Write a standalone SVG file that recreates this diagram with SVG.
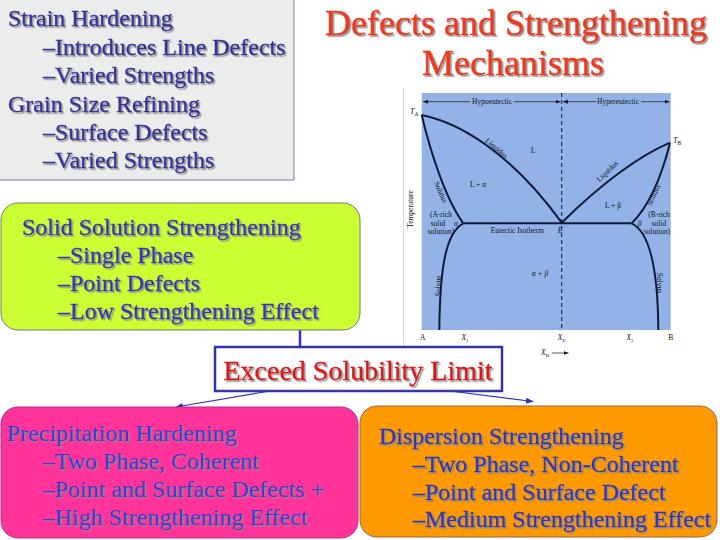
<svg xmlns="http://www.w3.org/2000/svg" width="720" height="540" viewBox="0 0 720 540">
<defs>
<filter id="sh" x="-5%" y="-20%" width="110%" height="140%">
<feDropShadow dx="1.6" dy="1.6" stdDeviation="0.4" flood-color="#8a8a8a" flood-opacity="0.9"/>
</filter>
<marker id="ah" markerWidth="8" markerHeight="6" refX="7" refY="3" orient="auto" markerUnits="userSpaceOnUse">
<path d="M0,0 L8,3 L0,6 Z" fill="#3333bb"/>
</marker>
<marker id="sa" markerWidth="5" markerHeight="4" refX="5" refY="2" orient="auto" markerUnits="userSpaceOnUse">
<path d="M0,0 L5,2 L0,4 Z" fill="#111"/>
</marker>
<marker id="sb" markerWidth="5" markerHeight="4" refX="0" refY="2" orient="auto" markerUnits="userSpaceOnUse">
<path d="M5,0 L0,2 L5,4 Z" fill="#111"/>
</marker>
</defs>
<style>
.cv{fill:none;stroke:#0d1a3a;stroke-width:2}
.conn{stroke:#3333bb;fill:none}
</style>
<rect x="0" y="0" width="720" height="540" fill="#ffffff"/>

<g id="title" font-family="'Liberation Serif', 'Times New Roman', serif" font-size="36" fill="#ec3a1c" stroke="#ec3a1c" stroke-width="0.4" filter="url(#sh)" text-anchor="middle">
<text x="516" y="35">Defects and Strengthening</text>
<text x="513" y="75">Mechanisms</text>
</g>

<g id="strain-grain">
<rect x="-1" y="-1" width="295" height="181" fill="#ececec" stroke="#7777aa" stroke-width="1"/>
<g font-family="'Liberation Serif', 'Times New Roman', serif" font-size="24" fill="#333399" stroke="#333399" stroke-width="0.35" filter="url(#sh)">
<text x="8" y="26">Strain Hardening</text>
<text x="43" y="55">–Introduces Line Defects</text>
<text x="43" y="83">–Varied Strengths</text>
<text x="8" y="112">Grain Size Refining</text>
<text x="43" y="140">–Surface Defects</text>
<text x="43" y="168">–Varied Strengths</text>
</g>
</g>

<g id="phase-diagram" font-family="'Liberation Serif', 'Times New Roman', serif" font-size="7.5" fill="#111">
<line x1="403.5" y1="88" x2="403.5" y2="372" stroke="#d8d8d8" stroke-width="1"/>
<rect x="421.7" y="93" width="249" height="237" fill="#93b3e8"/>
<line x1="561.7" y1="93" x2="561.7" y2="330" stroke="#0d1a3a" stroke-width="1" stroke-dasharray="4,3"/>
<line x1="423" y1="101.7" x2="560.5" y2="101.7" stroke="#111" stroke-width="0.7" marker-start="url(#sb)" marker-end="url(#sa)"/>
<line x1="563" y1="101.7" x2="669.5" y2="101.7" stroke="#111" stroke-width="0.7" marker-start="url(#sb)" marker-end="url(#sa)"/>
<rect x="470" y="97" width="44" height="8" fill="#93b3e8"/>
<rect x="596" y="97" width="45" height="8" fill="#93b3e8"/>
<text x="492" y="104" text-anchor="middle">Hypoeutectic</text>
<text x="618" y="104" text-anchor="middle">Hypereutectic</text>
<path class="cv" d="M421.7,115 C470,125 520,165 561.7,222.7"/>
<path class="cv" d="M561.7,222.7 C590,195 630,160 670,142.7"/>
<path class="cv" d="M421.7,115 C430,150 445,198 463.3,223.3"/>
<path class="cv" d="M670,142.7 C662,175 650,205 631.7,223.3"/>
<line class="cv" x1="463.3" y1="223.3" x2="631.7" y2="223.3"/>
<path class="cv" d="M463.3,223.3 C447,232 440,262 439.3,330"/>
<path class="cv" d="M631.7,223.3 C650,232 658,270 658.3,330"/>
<text x="410" y="114"><tspan font-style="italic" font-size="8">T</tspan><tspan font-size="5.5" dy="1.5">A</tspan></text>
<text x="673" y="143"><tspan font-style="italic" font-size="8">T</tspan><tspan font-size="5.5" dy="1.5">B</tspan></text>
<text x="533.3" y="153" text-anchor="middle">L</text>
<text x="478" y="187" text-anchor="middle">L + α</text>
<text x="613" y="208" text-anchor="middle">L + β</text>
<text x="495" y="150" text-anchor="middle" transform="rotate(40 495 150)">Liquidus</text>
<text x="609" y="173" text-anchor="middle" transform="rotate(-44 609 173)">Liquidus</text>
<text x="438.5" y="193" text-anchor="middle" transform="rotate(66 438.5 193)">Solidus</text>
<text x="656" y="196" text-anchor="middle" transform="rotate(-66 656 196)">Solidus</text>
<text x="441" y="217" text-anchor="middle">(A-rich</text>
<text x="438" y="225.5" text-anchor="middle">solid</text>
<text x="456" y="225.5" text-anchor="middle" font-style="italic">α</text>
<text x="441" y="234" text-anchor="middle">solution)</text>
<text x="659" y="216.5" text-anchor="middle">(B-rich</text>
<text x="639.5" y="225.5" text-anchor="middle" font-style="italic">β</text>
<text x="659" y="225.5" text-anchor="middle">solid</text>
<text x="657" y="234" text-anchor="middle">solution)</text>
<text x="517.3" y="232.5" text-anchor="middle">Eutectic Isotherm</text>
<text x="560" y="233" text-anchor="middle" font-style="italic">E</text>
<text x="540" y="276" text-anchor="middle" font-style="italic">α + β</text>
<text x="440.5" y="286" text-anchor="middle" transform="rotate(-90 440.5 286)">Solvus</text>
<text x="656.5" y="283" text-anchor="middle" transform="rotate(90 656.5 283)">Solvus</text>
<text x="412.5" y="209" text-anchor="middle" transform="rotate(-90 412.5 209)">Temperature</text>
<text x="422.7" y="340" text-anchor="middle">A</text>
<text x="465" y="340" text-anchor="middle"><tspan font-style="italic">X</tspan><tspan font-size="5" dy="1.5">1</tspan></text>
<text x="561.7" y="340" text-anchor="middle"><tspan font-style="italic">X</tspan><tspan font-size="5" font-style="italic" dy="1.5">E</tspan></text>
<text x="630" y="340" text-anchor="middle"><tspan font-style="italic">X</tspan><tspan font-size="5" dy="1.5">2</tspan></text>
<text x="670.7" y="340" text-anchor="middle">B</text>
<text x="545" y="355" text-anchor="middle"><tspan font-style="italic">X</tspan><tspan font-size="5" dy="1.5">B</tspan></text>
<line x1="552" y1="353" x2="568.5" y2="353" stroke="#111" stroke-width="0.7" marker-end="url(#sa)"/>
</g>

<g id="connectors">
<line class="conn" x1="300" y1="330" x2="300" y2="347" stroke-width="2.5"/>
<line class="conn" x1="270" y1="391" x2="176" y2="407" stroke-width="1.2" marker-end="url(#ah)"/>
<line class="conn" x1="450" y1="391" x2="533" y2="401.5" stroke-width="1.2" marker-end="url(#ah)"/>
</g>

<g id="solid-solution">
<rect x="1" y="203" width="359" height="127" rx="17" ry="17" fill="#ccff33" stroke="#7a7a6a" stroke-width="1"/>
<g font-family="'Liberation Serif', 'Times New Roman', serif" font-size="24" fill="#3535b0" stroke="#3535b0" stroke-width="0.3" filter="url(#sh)">
<text x="22" y="235">Solid Solution Strengthening</text>
<text x="58" y="263">–Single Phase</text>
<text x="58" y="291">–Point Defects</text>
<text x="58" y="319">–Low Strengthening Effect</text>
</g>
</g>

<g id="exceed">
<rect x="215" y="347" width="287" height="44" fill="#ffffff" stroke="#3333aa" stroke-width="2.5"/>
<g font-family="'Liberation Serif', 'Times New Roman', serif" font-size="28" fill="#dd1414" stroke="#dd1414" stroke-width="0.35" filter="url(#sh)">
<text x="358" y="380" text-anchor="middle">Exceed Solubility Limit</text>
</g>
</g>

<g id="precipitation">
<rect x="1" y="407" width="357" height="131" rx="17" ry="17" fill="#ff3399" stroke="#aa3388" stroke-width="1"/>
<g font-family="'Liberation Serif', 'Times New Roman', serif" font-size="24" fill="#3a3ad0" filter="url(#sh)">
<text x="7" y="441">Precipitation Hardening</text>
<text x="43" y="469">–Two Phase, Coherent</text>
<text x="43" y="497">–Point and Surface Defects +</text>
<text x="43" y="525">–High Strengthening Effect</text>
</g>
</g>

<g id="dispersion">
<rect x="360" y="406" width="357" height="131" rx="17" ry="17" fill="#ff9900" stroke="#996644" stroke-width="1"/>
<g font-family="'Liberation Serif', 'Times New Roman', serif" font-size="24" fill="#3535b0" stroke="#3535b0" stroke-width="0.3" filter="url(#sh)">
<text x="379" y="444">Dispersion Strengthening</text>
<text x="413" y="472">–Two Phase, Non-Coherent</text>
<text x="413" y="500">–Point and Surface Defect</text>
<text x="413" y="527">–Medium Strengthening Effect</text>
</g>
</g>
</svg>
